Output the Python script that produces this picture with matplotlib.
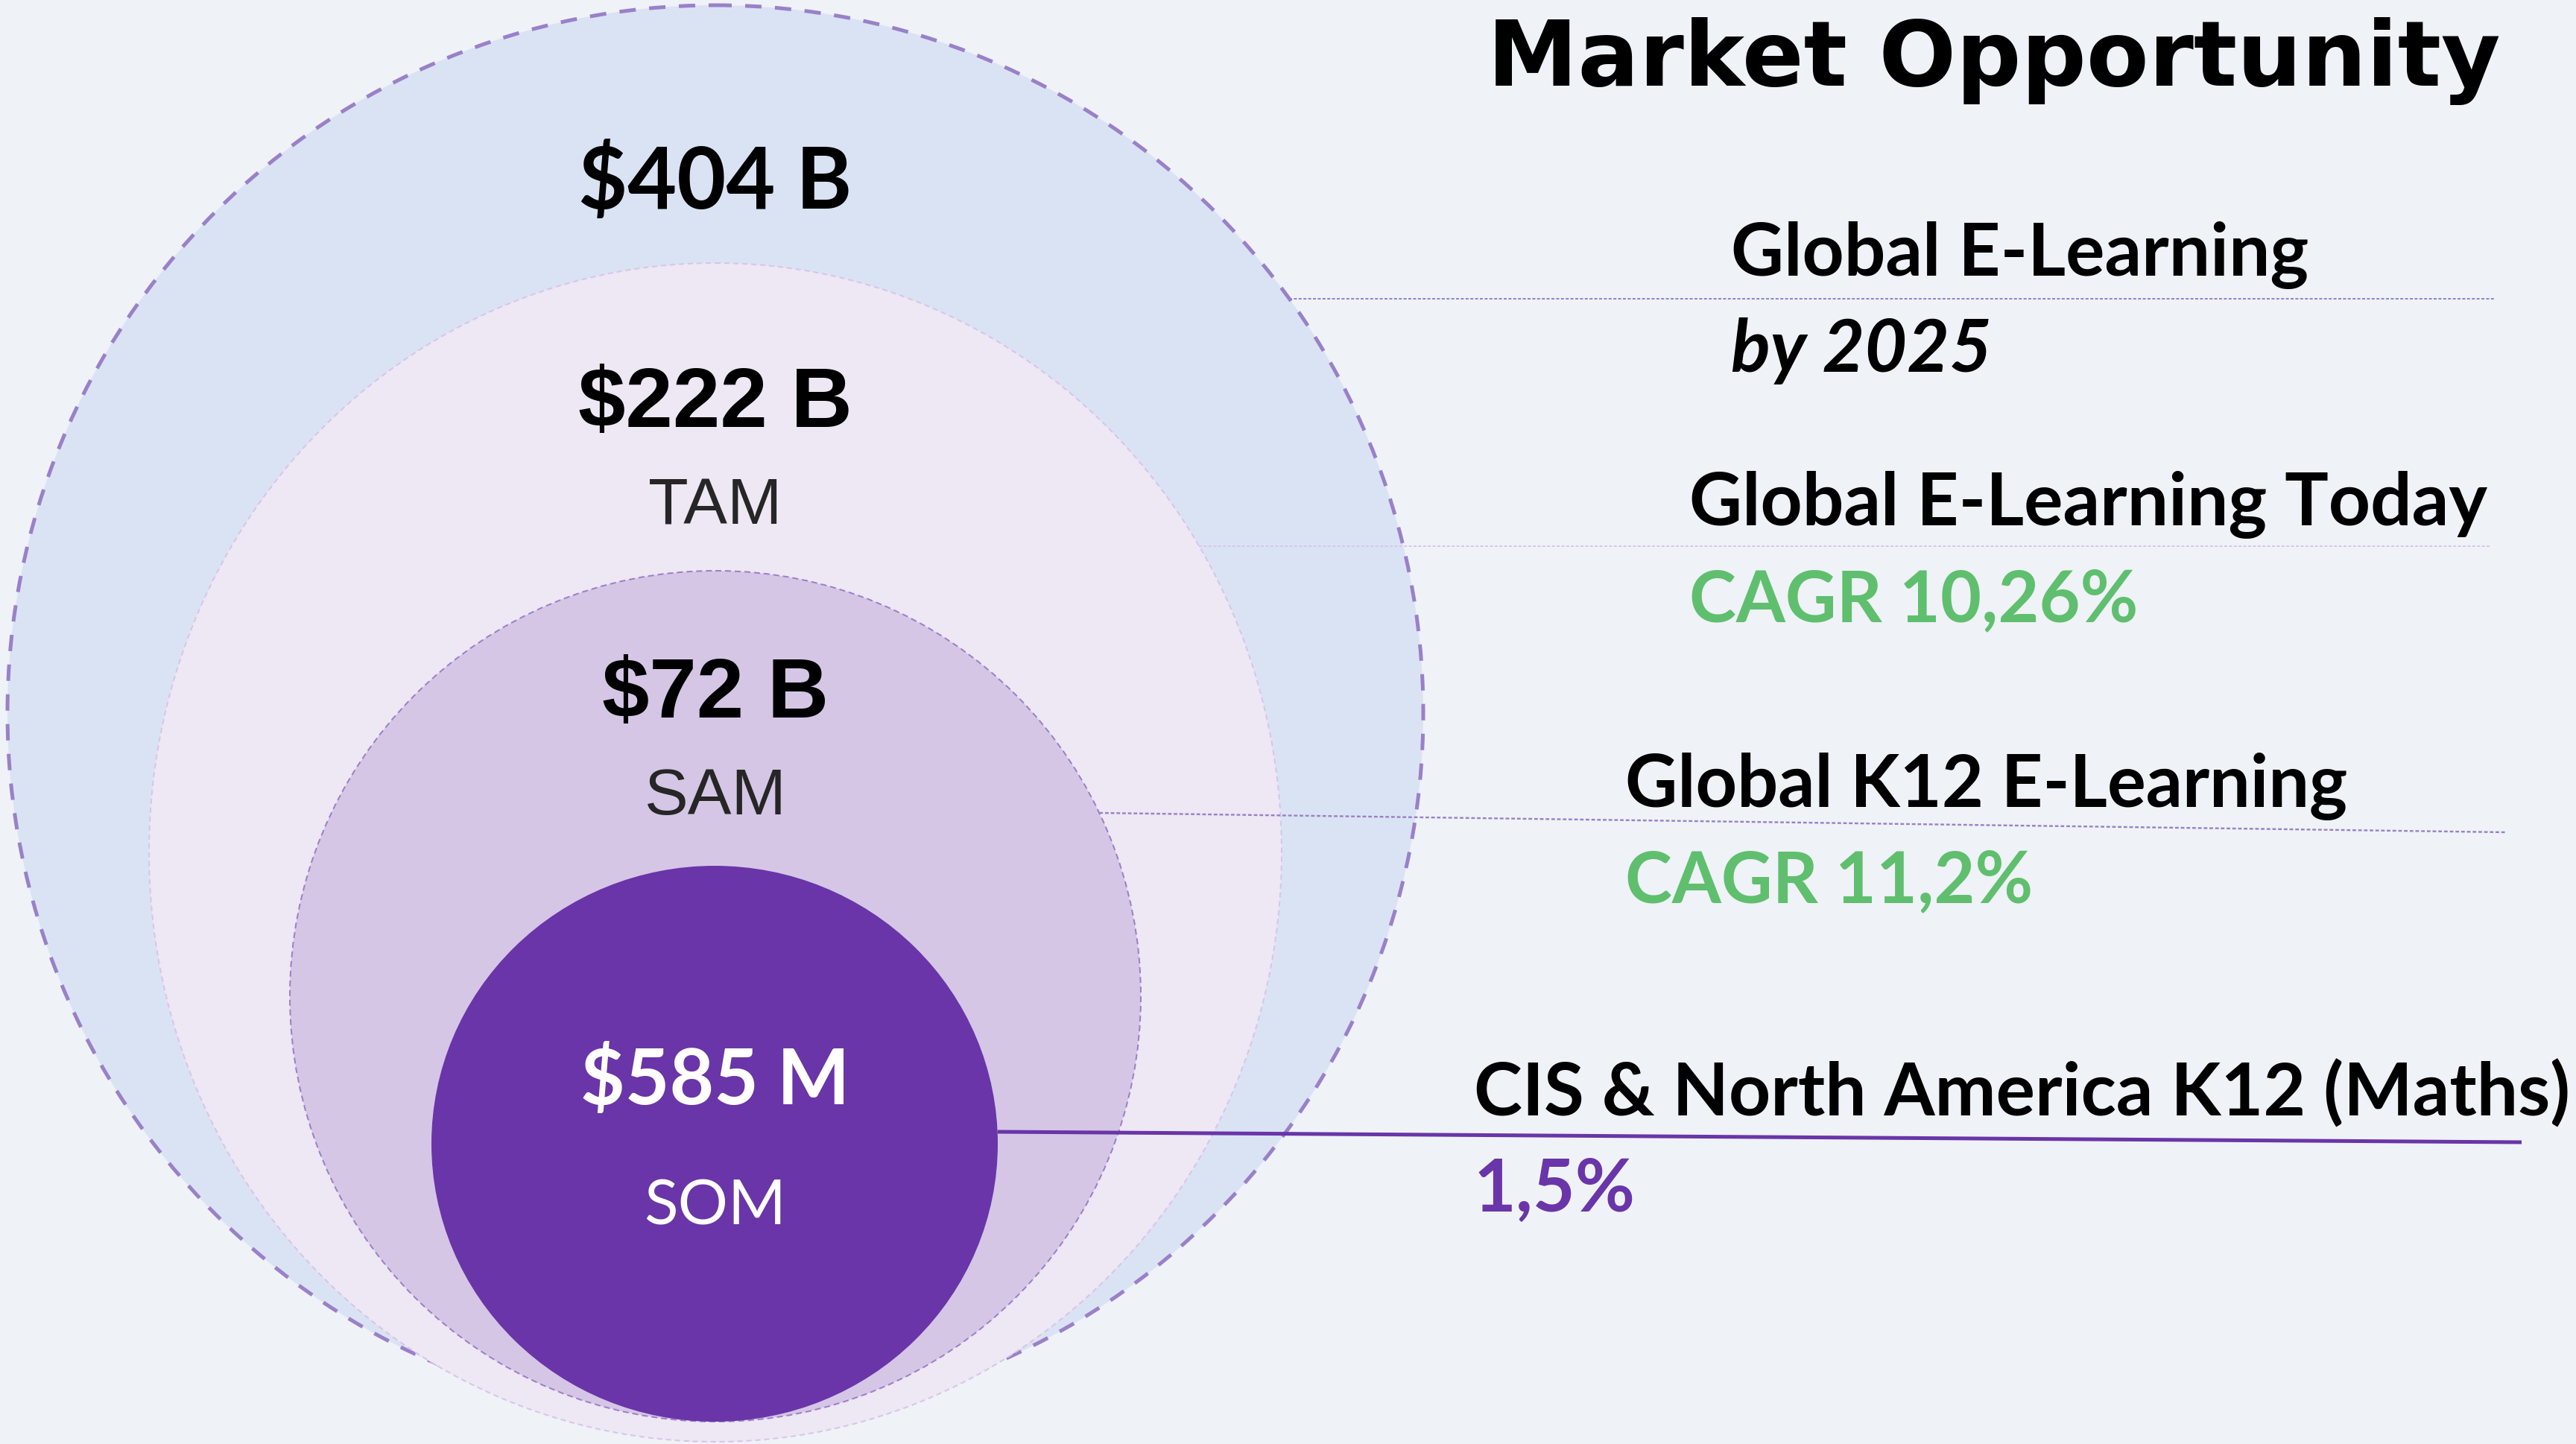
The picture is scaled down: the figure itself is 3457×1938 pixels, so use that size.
import matplotlib
matplotlib.use("Agg")
import matplotlib.pyplot as plt
import numpy as np
from matplotlib.patches import Ellipse

# market sizes shown inside the rings (outer -> inner)
values = ["$404 B", "$222 B", "$72 B", "$585 M"]
codes = ["", "TAM", "SAM", "SOM"]
# right-hand descriptions
segments = ["Global E-Learning", "Global E-Learning Today",
            "Global K12 E-Learning", "CIS & North America K12 (Maths)"]
notes = ["by 2025", "CAGR 10,26%", "CAGR 11,2%", "1,5%"]
note_colors = ["black", "#5fbf6e", "#5fbf6e", "#6935a8"]

BG = "#eff2f7"
PURPLE = "#6935a8"
LAV = "#9a80c8"
PX = 72 / 100  # points per pixel at dpi 100

fig = plt.figure(figsize=(34.57, 19.38), dpi=100)
fig.patch.set_facecolor(BG)
ax = fig.add_axes([0, 0, 1, 1])
ax.set_xlim(0, 3457)
ax.set_ylim(1938, 0)
ax.axis("off")

# ring geometry: centre x, centre y, radius x, radius y
rings = [
    (960, 957, 950, 950),
    (960, 1144, 760, 791),
    (960, 1337, 571, 571),
    (959, 1535, 380, 373),
]
ring_style = [
    dict(fc="#dae3f3", ec=LAV, lw=5 * PX, ls=(0, (4.4, 3.6))),
    dict(fc="#eee7f4", ec="#d7c5e9", lw=2 * PX, ls=(0, (3.5, 2.5))),
    dict(fc="#d5c6e6", ec=LAV, lw=2 * PX, ls=(0, (4, 2.5))),
    dict(fc=PURPLE, ec="none", lw=0, ls="solid"),
]
for i, ((cx, cy, rx, ry), st) in enumerate(zip(rings, ring_style)):
    ax.add_patch(Ellipse((cx, cy), 2 * rx, 2 * ry, facecolor=st["fc"],
                         edgecolor=st["ec"], linewidth=st["lw"],
                         linestyle=st["ls"], zorder=1 + i))


def edge_x(ring, y):
    cx, cy, rx, ry = ring
    return cx + rx * np.sqrt(max(0.0, 1 - ((y - cy) / ry) ** 2))


# leader lines from each ring's right edge to the label column
leaders = [((401, 401), 3348, LAV, 2 * PX, (0, (2, 1.2))),
           ((733, 733), 3342, "#d9c7ea", 2 * PX, (0, (2, 1.2))),
           ((1091, 1117), 3363, LAV, 2.4 * PX, (0, (2, 1.2))),
           ((1519, 1533), 3384, PURPLE, 5 * PX, "solid")]
for ring, ((y0, y1), x1, c, lw, ls) in zip(rings, leaders):
    ax.plot([edge_x(ring, y0), x1], [y0, y1], color=c, lw=lw, ls=ls,
            solid_capstyle="butt", zorder=10)

# values inside the rings
val_fonts = ["Lato", "Liberation Sans", "Liberation Sans", "Lato"]
val_colors = ["black", "black", "black", "white"]
val_sizes = [114 * PX, 114 * PX, 114 * PX, 103 * PX]
val_base = [280, 573, 963, 1482]
code_fonts = ["", "Liberation Sans", "Liberation Sans", "Lato"]
code_colors = ["", "#262626", "#262626", "white"]
code_sizes = [0, 88 * PX, 88 * PX, 84 * PX]
code_base = [0, 703, 1093, 1643]
for i in range(len(values)):
    ax.text(960, val_base[i], values[i], ha="center", va="baseline",
            fontsize=val_sizes[i], fontweight="bold", family=val_fonts[i],
            color=val_colors[i], zorder=12)
    if codes[i]:
        ax.text(960, code_base[i], codes[i], ha="center", va="baseline",
                fontsize=code_sizes[i], family=code_fonts[i],
                color=code_colors[i], zorder=12)

# right-hand labels
lab_x = [2323, 2267, 2181, 1978]
seg_base = [370, 705, 1083, 1498]
note_base = [499, 834, 1211, 1626]
seg_sizes = [98, 98, 97, 98]
note_sizes = [98, 95, 95, 98]
for i in range(len(segments)):
    ax.text(lab_x[i], seg_base[i], segments[i], ha="left", va="baseline",
            fontsize=seg_sizes[i] * PX, fontweight="bold", family="Lato",
            color="black", zorder=12)
    ax.text(lab_x[i], note_base[i], notes[i], ha="left", va="baseline",
            fontsize=note_sizes[i] * PX, fontweight="bold", family="Lato",
            style="italic" if i == 0 else "normal",
            color=note_colors[i], zorder=12)

ax.text(3356, 115, "Market Opportunity", ha="right", va="baseline",
        fontsize=122 * PX, fontweight="bold", family="DejaVu Sans",
        color="black", zorder=12)

fig.savefig("out.png", dpi=100, facecolor=BG)
